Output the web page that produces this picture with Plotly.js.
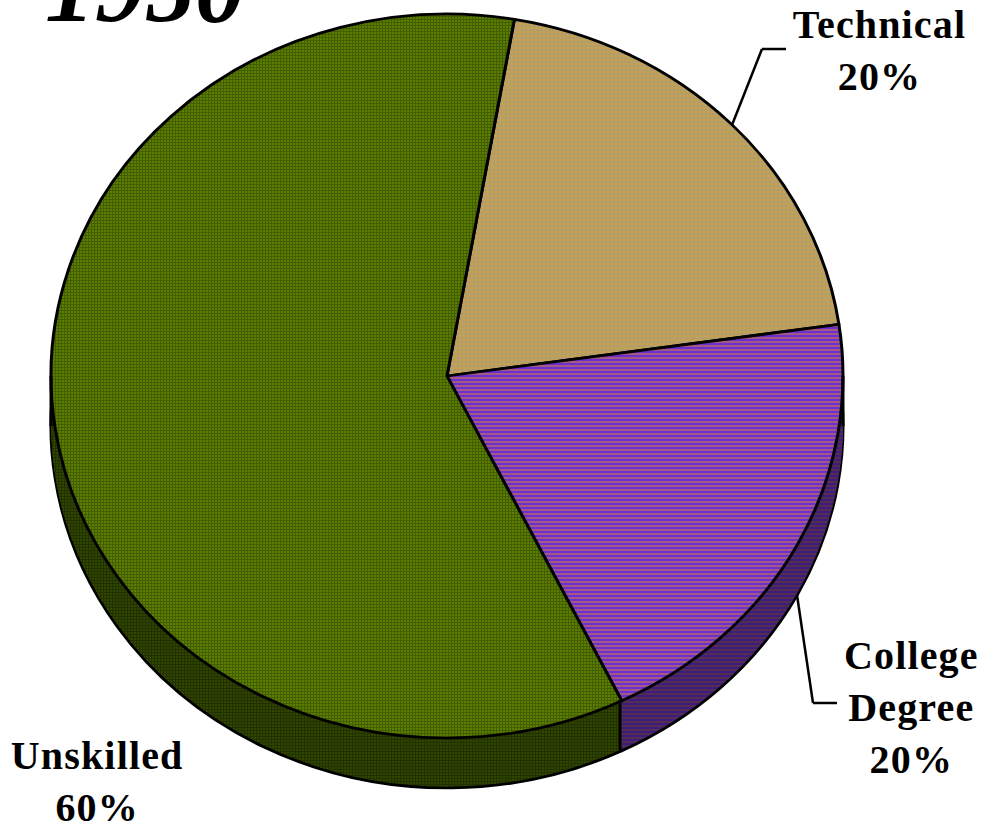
<!DOCTYPE html>
<html>
<head>
<meta charset="utf-8">
<script src="https://cdn.plot.ly/plotly-3.0.1.min.js"></script>
<style>html,body{margin:0;padding:0;background:#fff;overflow:hidden}</style>
</head>
<body>
<div id="chart" style="width:982px;height:823px"></div>
<script>
// Data
const categories = ['Technical', 'College Degree', 'Unskilled'];
const shares = [20, 20, 60];
const chartTitle = '1950';
const startAngle = 9.8;

// Styles
const topBg = ['#c8a04a', '#6a30d0', '#5a7e00'];
const topFg = ['#8c9ca8', '#e08034', '#2c3c00'];
const topShape = ['.', '-', '+'];
const topSize = [4, 4, 3];
const topSolidity = [0.5, 0.5, 0.556];
const wallBg = ['#64502a', '#3c1c80', '#304600'];
const wallFg = ['#464e54', '#70401a', '#141c00'];

// Page geometry of the tilted pie
const W = 982, H = 823;
const cx = 447, cy = 376, rx = 396, ry = 362;
const depth = 50, step = 2;
const squash = ry / rx;

function pieLayer(bg, fg, lineWidth, uid) {
  return {
    type: 'pie',
    uid: uid,
    labels: categories,
    values: shares,
    sort: false,
    direction: 'clockwise',
    rotation: startAngle,
    textinfo: 'none',
    hoverinfo: 'label+percent',
    showlegend: false,
    domain: {x: [(cx - rx) / W, (cx + rx) / W], y: [0, 1]},
    marker: {
      colors: bg,
      line: {color: '#000', width: lineWidth},
      pattern: {shape: topShape, fgcolor: fg, bgcolor: bg, size: topSize, solidity: topSolidity, fillmode: 'overlay'}
    }
  };
}

const offsets = [];
for (let d = depth; d > 0; d -= step) offsets.push(d);
offsets.push(0);

const traces = offsets.map((d, i) =>
  d === 0 ? pieLayer(topBg, topFg, 3, 'top')
          : pieLayer(wallBg, wallFg, i === 0 ? 3 : 0, 'wall' + d));

function lbl(text, x, y) {
  return {text, x: x / W, y: 1 - y / H, xref: 'paper', yref: 'paper', showarrow: false,
    xanchor: 'center', yanchor: 'middle', align: 'center',
    font: {family: '"Liberation Serif", serif', size: 40, color: '#000', weight: 'bold'}};
}
function seg(x0, y0, x1, y1, w) {
  return {type: 'line', xref: 'paper', yref: 'paper', layer: 'above',
    x0: x0 / W, x1: x1 / W, y0: 1 - y0 / H, y1: 1 - y1 / H,
    line: {color: '#000', width: w || 2.5}};
}

const layout = {
  width: W, height: H,
  margin: {l: 0, r: 0, t: 0, b: 0},
  paper_bgcolor: '#fff',
  title: {
    text: chartTitle, x: 145 / W, xanchor: 'center', y: 1 - 21 / H, yanchor: 'bottom',
    pad: {t: 0, b: 0, l: 0, r: 0},
    font: {family: '"Liberation Serif", serif', size: 100, color: '#000', weight: 'bold', style: 'italic'}
  },
  annotations: [
    lbl('Technical<br>20%', 879, 51),
    lbl('College<br>Degree<br>20%', 911, 707),
    lbl('Unskilled<br>60%', 97, 781)
  ],
  shapes: [
    seg(732, 125, 762, 49), seg(762, 49, 786, 49),
    seg(797, 595, 813, 703), seg(813, 703, 837, 703),
    seg(620, 700, 620, 750, 3),
    seg(cx - rx, cy, cx - rx, cy + depth, 3),
    seg(cx + rx, cy, cx + rx, cy + depth, 3)
  ]
};

Plotly.newPlot('chart', traces, layout, {displayModeBar: false, staticPlot: true}).then(gd => {
  // Flatten the circular pies into the tilted ellipse and stack them as the pie's wall.
  const midY = H / 2;
  gd.querySelectorAll('.pielayer .trace').forEach((g, i) => {
    const T = cy + offsets[i] - midY * squash;
    g.setAttribute('transform', `translate(0,${T}) scale(1,${squash})`);
    // Keep the hatching at a square pixel pitch, aligned to the page across layers.
    g.querySelectorAll('path').forEach(path => {
      const m = /url\(["']?[^#]*#([^"')]+)/.exec(path.style.fill || '');
      const p = m && document.getElementById(m[1]);
      if (p) p.setAttribute('patternTransform', `translate(0,${-T / squash}) scale(1,${1 / squash})`);
    });
  });
  // The original's labels are slightly letter-spaced.
  gd.querySelectorAll('.annotation-text').forEach(t => { t.style.letterSpacing = '1.15px'; });
});
</script>
</body>
</html>
